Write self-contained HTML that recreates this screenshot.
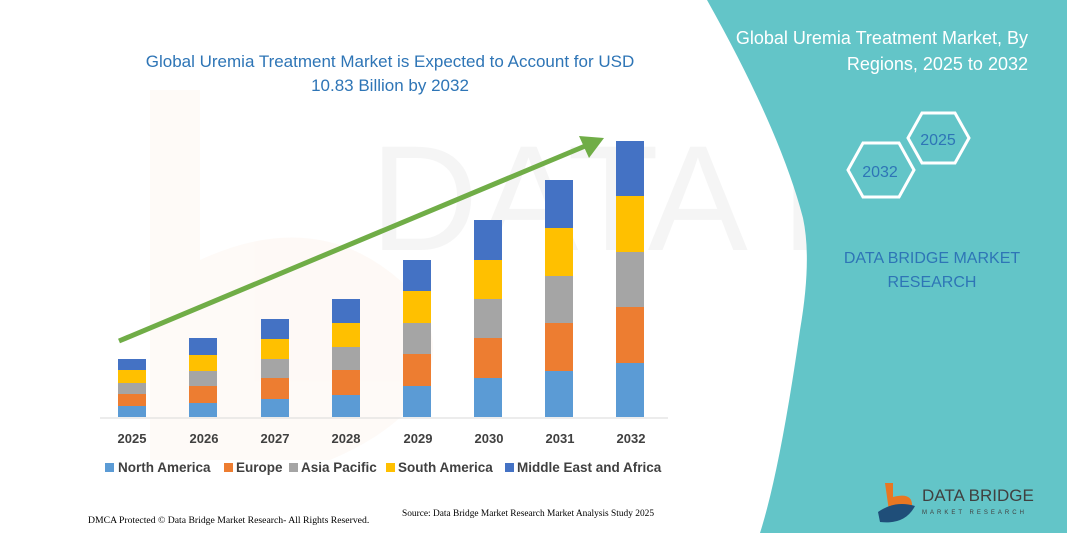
<!DOCTYPE html>
<html><head><style>
body{margin:0;width:1067px;height:533px;overflow:hidden;background:#fff;font-family:"Liberation Sans",sans-serif}
</style></head><body>
<svg width="1067" height="533" viewBox="0 0 1067 533" xmlns="http://www.w3.org/2000/svg" style="position:absolute;left:0;top:0">
<g opacity="0.035">
<text x="370" y="250" font-size="150" fill="#000" font-family="Liberation Sans">DATA BRIDGE</text>
<path d="M150 90 L200 90 L200 260 Q330 200 420 300 Q470 400 330 460 L150 460 Z" fill="#e87722"/>
</g>
<path d="M707 0 L1067 0 L1067 533 L760 533 Q780 470 800 330 Q812 260 803 218 Q780 130 707 0 Z" fill="#63C5C8"/>
<text x="390" y="67" text-anchor="middle" font-size="17" fill="#2E75B6">Global Uremia Treatment Market is Expected to Account for USD</text>
<text x="390" y="91" text-anchor="middle" font-size="17" fill="#2E75B6">10.83 Billion by 2032</text>
<text x="1028" y="44" text-anchor="end" font-size="18" fill="#fff">Global Uremia Treatment Market, By</text>
<text x="1028" y="70" text-anchor="end" font-size="18" fill="#fff">Regions, 2025 to 2032</text>
<polygon points="848,170 863,143 899,143 914,170 899,197 863,197" fill="none" stroke="#fff" stroke-width="3"/>
<polygon points="908,138 922,113 955,113 969,138 955,163 922,163" fill="none" stroke="#fff" stroke-width="3"/>
<text x="938" y="145" text-anchor="middle" font-size="16" fill="#2E75B6">2025</text>
<text x="880" y="177" text-anchor="middle" font-size="16" fill="#2E75B6">2032</text>
<text x="932" y="263" text-anchor="middle" font-size="16" fill="#2E75B6">DATA BRIDGE MARKET</text>
<text x="932" y="287" text-anchor="middle" font-size="16" fill="#2E75B6">RESEARCH</text>
<line x1="100" y1="418" x2="668" y2="418" stroke="#d9d9d9" stroke-width="1"/>
<g id="bars"></g>
<line x1="119" y1="341" x2="590" y2="144" stroke="#70AD47" stroke-width="5"/>
<polygon points="604,138 579,136 589,158" fill="#70AD47"/>
<g font-size="13" font-weight="bold" fill="#404040" text-anchor="middle">
<text x="132" y="443">2025</text><text x="204" y="443">2026</text><text x="275" y="443">2027</text><text x="346" y="443">2028</text><text x="418" y="443">2029</text><text x="489" y="443">2030</text><text x="560" y="443">2031</text><text x="631" y="443">2032</text>
</g>
<g font-size="13.5" font-weight="bold" fill="#404040">
<rect x="105" y="463" width="9" height="9" fill="#5B9BD5"/><text x="118" y="472">North America</text>
<rect x="224" y="463" width="9" height="9" fill="#ED7D31"/><text x="236" y="472">Europe</text>
<rect x="289" y="463" width="9" height="9" fill="#A5A5A5"/><text x="301" y="472">Asia Pacific</text>
<rect x="386" y="463" width="9" height="9" fill="#FFC000"/><text x="398" y="472">South America</text>
<rect x="505" y="463" width="9" height="9" fill="#4472C4"/><text x="517" y="472">Middle East and Africa</text>
</g>
<text x="88" y="523" font-size="9.7" fill="#000" font-family="Liberation Serif">DMCA Protected © Data Bridge Market Research- All Rights Reserved.</text>
<text x="402" y="516" font-size="9.4" fill="#000" font-family="Liberation Serif">Source: Data Bridge Market Research  Market Analysis Study 2025</text>
<path d="M885 483 L893 483 L893 497 Q912 492 912 505 Q910 520 890 518 Z" fill="#E87722"/>
<path d="M878 512 Q895 500 915 506 Q905 525 880 522 Z" fill="#1F4E79"/>
<text x="922" y="501" font-size="17" fill="#404040">DATA BRIDGE</text>
<text x="922" y="514" font-size="6" fill="#404040" letter-spacing="3">MARKET RESEARCH</text>
</svg>
<script>
var xs=[118,189,261,332,403,474,545,616];
var ys=[[359,370,383,394,406],[338,355,371,386,403],[319,339,359,378,399],[299,323,347,370,395],[260,291,323,354,386],[220,260,299,338,378],[180,228,276,323,371],[141,196,252,307,363]];
var cols=["#4472C4","#FFC000","#A5A5A5","#ED7D31","#5B9BD5"];
var g=document.getElementById("bars"),s="";
for(var i=0;i<8;i++){var y=ys[i].concat([417]);for(var j=0;j<5;j++){s+='<rect x="'+xs[i]+'" y="'+y[j]+'" width="28" height="'+(y[j+1]-y[j])+'" fill="'+cols[j]+'"/>';}}
g.innerHTML=s;
</script>
</body></html>
